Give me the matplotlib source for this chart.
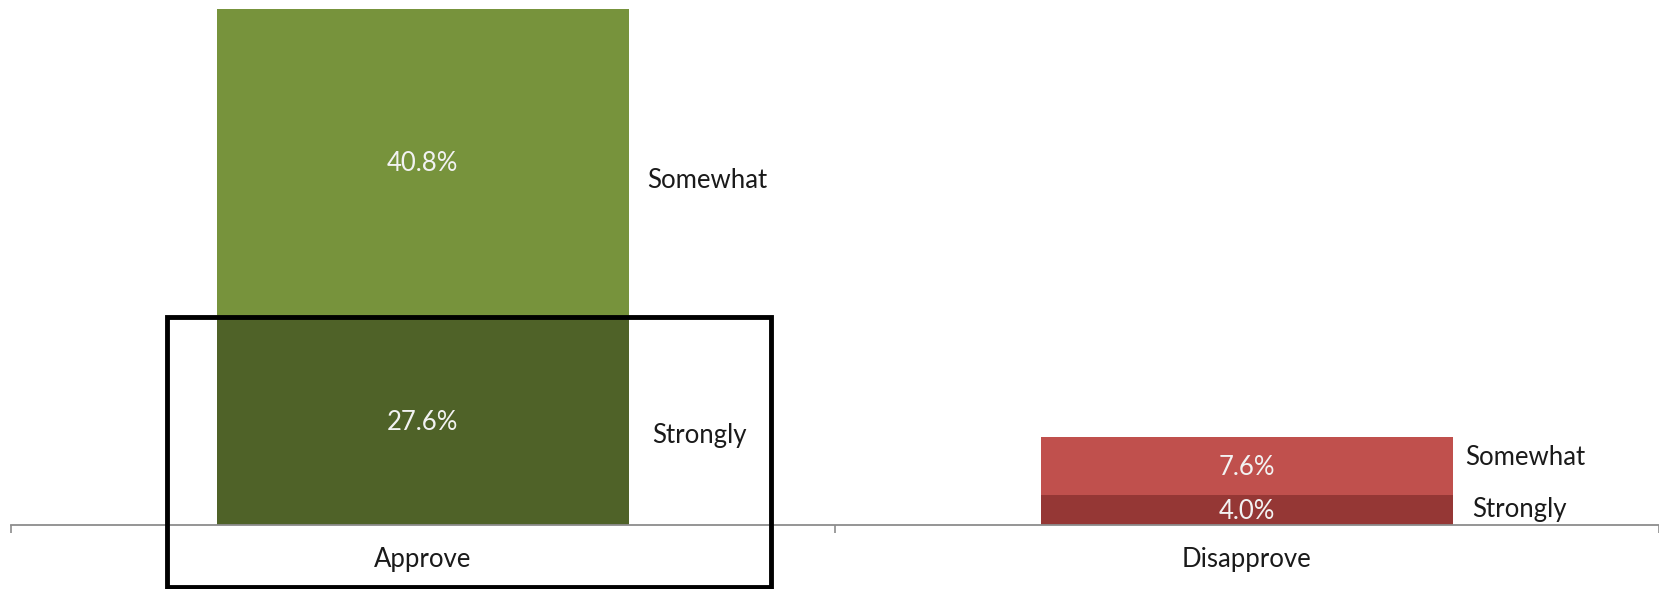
import numpy as np
import matplotlib.pyplot as plt
import matplotlib.patches as mpatches

categories = ['Approve', 'Disapprove']
strongly   = [27.6, 4.0]
somewhat   = [40.8, 7.6]

COL_STRONG = ['#4F6228', '#953735']
COL_SOME   = ['#77933C', '#C0504D']

FONT = 'Lato'
WEIGHT = 'normal'
FS = 18.5

fig = plt.figure(figsize=(16.59, 5.89), dpi=100)
ax = fig.add_axes([10.6/1659, 64/589, 1 - 10.6/1659, 528.5/589])

x = np.arange(len(categories))
w = 0.5
ax.bar(x, strongly, w, color=COL_STRONG, linewidth=0)
ax.bar(x, somewhat, w, bottom=strongly, color=COL_SOME, linewidth=0)

ax.set_xlim(-0.5, len(categories) - 0.5)
ax.set_ylim(0, 70)

# value labels inside the segments
for i in range(len(categories)):
    ax.annotate(f'{strongly[i]:.1f}%', (x[i], strongly[i] / 2), xytext=(0, -2),
                textcoords='offset pixels', ha='center', va='center',
                color='#F2F2F2', fontsize=FS, family=FONT, fontweight=WEIGHT)
    ax.annotate(f'{somewhat[i]:.1f}%', (x[i], strongly[i] + somewhat[i] / 2),
                xytext=(0, -1), textcoords='offset pixels', ha='center',
                va='center', color='#F2F2F2', fontsize=FS, family=FONT,
                fontweight=WEIGHT)

# series names to the right of each bar (hand placed, like in the original)
name_offsets = [
    # (dx px, dy px) for strongly, somewhat
    ((23, -15), (18, -18)),
    ((19, 0), (12, 9)),
]
for i in range(len(categories)):
    (sdx, sdy), (mdx, mdy) = name_offsets[i]
    ax.annotate('Strongly', (x[i] + w / 2, strongly[i] / 2), xytext=(sdx, sdy),
                textcoords='offset pixels', ha='left', va='center',
                fontsize=FS, family=FONT, fontweight=WEIGHT, color='#1a1a1a')
    ax.annotate('Somewhat', (x[i] + w / 2, strongly[i] + somewhat[i] / 2),
                xytext=(mdx, mdy), textcoords='offset pixels', ha='left',
                va='center', fontsize=FS, family=FONT, fontweight=WEIGHT,
                color='#1a1a1a')

# axis styling
for s in ['top', 'right', 'left']:
    ax.spines[s].set_visible(False)
ax.spines['bottom'].set_color('#8C8C8C')
ax.spines['bottom'].set_linewidth(1.3)
ax.set_yticks([])
ax.set_xticks(np.arange(len(categories) + 1) - 0.5)
ax.set_xticklabels([])
ax.tick_params(axis='x', which='major', direction='out', length=6,
               width=1.2, color='#8C8C8C')
ax.set_xticks(x, minor=True)
ax.set_xticklabels(categories, minor=True, fontsize=FS, family=FONT,
                   fontweight=WEIGHT, color='#1a1a1a')
ax.tick_params(axis='x', which='minor', length=0, pad=16)

# highlight box around the "Approve / Strongly" block
box = mpatches.Rectangle((x[0] - 0.31, -8.2), 0.733, strongly[0] + 8.2,
                         fill=False, edgecolor='black', linewidth=3.5,
                         clip_on=False, zorder=5)
ax.add_patch(box)

plt.savefig('out.png', dpi=100)
plt.close()
